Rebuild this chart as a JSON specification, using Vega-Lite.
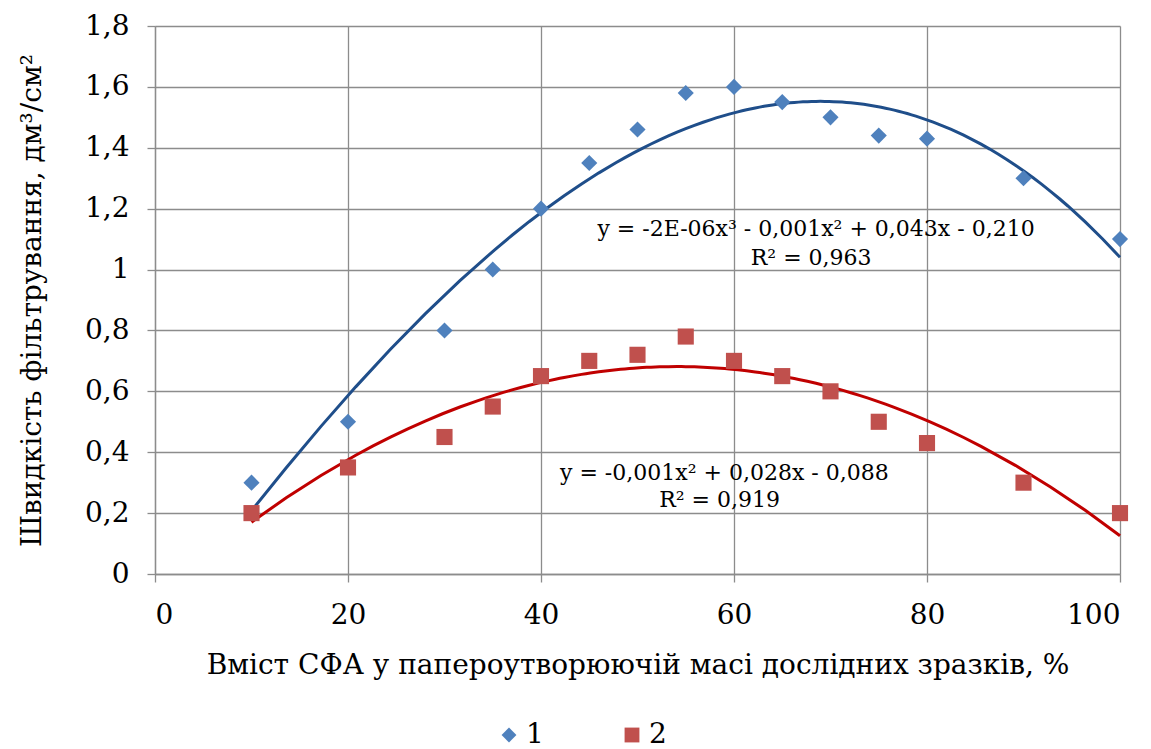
{
  "$schema": "https://vega.github.io/schema/vega-lite/v6.json",
  "width": 965,
  "height": 548,
  "autosize": {"type": "none"},
  "padding": {"left": 155, "top": 26, "right": 31, "bottom": 175},
  "background": "white",
  "config": {
    "font": "DejaVu Serif",
    "view": {"stroke": null}
  },
  "datasets": {
    "points": [
      {"series": "1", "x": 10, "y": 0.30},
      {"series": "1", "x": 20, "y": 0.50},
      {"series": "1", "x": 30, "y": 0.80},
      {"series": "1", "x": 35, "y": 1.00},
      {"series": "1", "x": 40, "y": 1.20},
      {"series": "1", "x": 45, "y": 1.35},
      {"series": "1", "x": 50, "y": 1.46},
      {"series": "1", "x": 55, "y": 1.58},
      {"series": "1", "x": 60, "y": 1.60},
      {"series": "1", "x": 65, "y": 1.55},
      {"series": "1", "x": 70, "y": 1.50},
      {"series": "1", "x": 75, "y": 1.44},
      {"series": "1", "x": 80, "y": 1.43},
      {"series": "1", "x": 90, "y": 1.30},
      {"series": "1", "x": 100, "y": 1.10},
      {"series": "2", "x": 10, "y": 0.20},
      {"series": "2", "x": 20, "y": 0.35},
      {"series": "2", "x": 30, "y": 0.45},
      {"series": "2", "x": 35, "y": 0.55},
      {"series": "2", "x": 40, "y": 0.65},
      {"series": "2", "x": 45, "y": 0.70},
      {"series": "2", "x": 50, "y": 0.72},
      {"series": "2", "x": 55, "y": 0.78},
      {"series": "2", "x": 60, "y": 0.70},
      {"series": "2", "x": 65, "y": 0.65},
      {"series": "2", "x": 70, "y": 0.60},
      {"series": "2", "x": 75, "y": 0.50},
      {"series": "2", "x": 80, "y": 0.43},
      {"series": "2", "x": 90, "y": 0.30},
      {"series": "2", "x": 100, "y": 0.20}
    ],
    "labels": [
      {"x": 68.5, "y": 1.133, "text": "y = -2E-06x³ - 0,001x² + 0,043x - 0,210"},
      {"x": 68.0, "y": 1.038, "text": "R² = 0,963"},
      {"x": 59.0, "y": 0.332, "text": "y = -0,001x² + 0,028x - 0,088"},
      {"x": 58.5, "y": 0.243, "text": "R² = 0,919"}
    ]
  },
  "encoding": {
    "x": {
      "field": "x",
      "type": "quantitative",
      "scale": {"domain": [0, 100], "nice": false, "zero": true},
      "axis": {
        "title": "Вміст СФА у папероутворюючій масі дослідних зразків, %",
        "values": [0, 20, 40, 60, 80, 100],
        "labelFont": "DejaVu Serif",
        "titleFont": "DejaVu Serif",
        "labelFontSize": 28,
        "titleFontSize": 28,
        "labelColor": "black",
        "titleColor": "black",
        "titleFontWeight": "normal",
        "gridColor": "#8c8c8c",
        "gridWidth": 1.3,
        "gridOpacity": 1,
        "domainColor": "#8c8c8c",
        "domainWidth": 1.3,
        "tickColor": "#8c8c8c",
        "tickWidth": 1.3,
        "tickSize": 8,
        "labelPadding": 19,
        "titlePadding": 22,
        "grid": true
      }
    },
    "y": {
      "field": "y",
      "type": "quantitative",
      "scale": {"domain": [0, 1.8], "nice": false, "zero": true},
      "axis": {
        "title": "Швидкість фільтрування,  дм³/см²",
        "values": [0, 0.2, 0.4, 0.6, 0.8, 1, 1.2, 1.4, 1.6, 1.8],
        "labelExpr": "replace(format(datum.value, '.1~f'), '.', ',')",
        "labelFont": "DejaVu Serif",
        "titleFont": "DejaVu Serif",
        "labelFontSize": 28,
        "titleFontSize": 28,
        "labelColor": "black",
        "titleColor": "black",
        "titleFontWeight": "normal",
        "gridColor": "#8c8c8c",
        "gridWidth": 1.3,
        "gridOpacity": 1,
        "domainColor": "#8c8c8c",
        "domainWidth": 1.3,
        "tickColor": "#8c8c8c",
        "tickWidth": 1.3,
        "tickSize": 8,
        "labelPadding": 18,
        "titlePadding": 38,
        "grid": true
      }
    }
  },
  "layer": [
    {
      "data": {"name": "points"},
      "transform": [
        {"filter": "datum.series === '1'"},
        {"regression": "y", "on": "x", "method": "poly", "order": 3}
      ],
      "mark": {"type": "line", "color": "#1F4E8A", "strokeWidth": 3}
    },
    {
      "data": {"name": "points"},
      "transform": [
        {"filter": "datum.series === '2'"},
        {"regression": "y", "on": "x", "method": "poly", "order": 2}
      ],
      "mark": {"type": "line", "color": "#C00000", "strokeWidth": 3}
    },
    {
      "data": {"name": "points"},
      "mark": {"type": "point", "filled": true, "opacity": 1, "size": 260},
      "encoding": {
        "color": {
          "field": "series",
          "type": "nominal",
          "scale": {"domain": ["1", "2"], "range": ["#4F81BD", "#C0504D"]},
          "legend": {
            "title": null,
            "orient": "none",
            "direction": "horizontal",
            "legendX": 340,
            "legendY": 695,
            "symbolSize": 220,
            "symbolStrokeWidth": 0,
            "labelOffset": 3,
            "columnPadding": 74,
            "labelFont": "DejaVu Serif",
            "labelFontSize": 28,
            "labelColor": "black"
          }
        },
        "shape": {
          "field": "series",
          "type": "nominal",
          "scale": {"domain": ["1", "2"], "range": ["diamond", "square"]}
        }
      }
    },
    {
      "data": {"name": "labels"},
      "mark": {"type": "text", "fontSize": 22, "font": "DejaVu Serif", "color": "black", "align": "center", "baseline": "middle"},
      "encoding": {
        "text": {"field": "text", "type": "nominal"}
      }
    }
  ]
}
